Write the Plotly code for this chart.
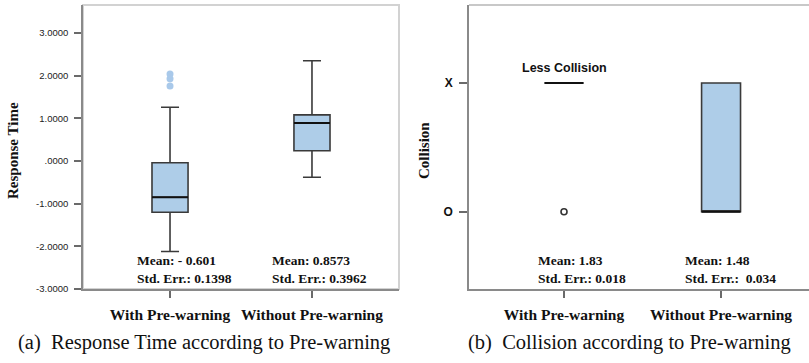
import plotly.graph_objects as go

# ---------------- data ----------------
groups = ["With Pre-warning", "Without Pre-warning"]

# (a) Response Time
rt_q1 = [-1.20, 0.24]
rt_median = [-0.85, 0.89]
rt_q3 = [-0.04, 1.08]
rt_lower = [-2.12, -0.38]
rt_upper = [1.26, 2.35]
rt_outlier_group = ["With Pre-warning", "With Pre-warning", "With Pre-warning"]
rt_outlier_y = [2.04, 1.93, 1.76]
rt_mean = ["- 0.601", "0.8573"]
rt_se = ["0.1398", "0.3962"]
rt_tickvals = [3, 2, 1, 0, -1, -2, -3]
rt_ticktext = ["3.0000", "2.0000", "1.0000", ".0000", "-1.0000", "-2.0000", "-3.0000"]

# (b) Collision  (O = 1, X = 2)
col_q1 = [2, 1]
col_median = [2, 1]
col_q3 = [2, 2]
col_lower = [2, 1]
col_upper = [2, 2]
col_outlier_group = ["With Pre-warning"]
col_outlier_y = [1]
col_mean = ["1.83", "1.48"]
col_se = ["0.018", "\u00a00.034"]
col_tickvals = [2, 1]
col_ticktext = ["X", "O"]

# ---------------- styles ----------------
FILL = "#aecde8"
EDGE = "#3a3a3a"
SERIF = "Liberation Serif, Times New Roman, serif"
SANS = "Liberation Sans, Arial, sans-serif"

fig = go.Figure()

def add_boxes(q1, med, q3, lo, hi, width, xa, ya):
    fig.add_trace(go.Box(
        x=groups, q1=q1, median=med, q3=q3, lowerfence=lo, upperfence=hi,
        width=width, fillcolor=FILL, line=dict(color=EDGE, width=1.6),
        boxpoints=False, whiskerwidth=0.5, showlegend=False, hoverinfo="skip",
        xaxis=xa, yaxis=ya))
    # darker median line
    fig.add_trace(go.Box(
        x=groups, q1=med, median=med, q3=med, lowerfence=med, upperfence=med,
        width=width, fillcolor="rgba(0,0,0,0)", line=dict(color="#111111", width=2.2),
        boxpoints=False, whiskerwidth=0, showlegend=False, hoverinfo="skip",
        xaxis=xa, yaxis=ya))

add_boxes(rt_q1, rt_median, rt_q3, rt_lower, rt_upper, 0.254, "x", "y")
fig.add_trace(go.Scatter(
    x=rt_outlier_group, y=rt_outlier_y, mode="markers",
    marker=dict(color="#a9c9ea", size=7, line=dict(width=0)),
    showlegend=False, hoverinfo="skip", xaxis="x", yaxis="y"))

add_boxes(col_q1, col_median, col_q3, col_lower, col_upper, 0.248, "x2", "y2")
fig.add_trace(go.Scatter(
    x=col_outlier_group, y=col_outlier_y, mode="markers",
    marker=dict(color="white", size=6, line=dict(color="#333333", width=1.6)),
    showlegend=False, hoverinfo="skip", xaxis="x2", yaxis="y2"))

ydom = [1 - 289 / 363, 1 - 5 / 363]
axis_common = dict(showgrid=False, zeroline=False, showline=True, automargin=False,
                   linecolor="#8a8a8a", linewidth=1.5, ticks="outside",
                   tickcolor="#6a6a6a", tickwidth=1.5)

fig.update_layout(
    width=809, height=363,
    margin=dict(l=0, r=0, t=0, b=0),
    paper_bgcolor="white", plot_bgcolor="white",
    showlegend=False,
    xaxis=dict(domain=[83 / 809, 399 / 809], type="category",
               categoryorder="array", categoryarray=groups,
               range=[-0.613, 1.613], ticklen=7, ticklabelstandoff=4,
               tickfont=dict(family=SERIF, size=15.5, color="#111111"),
               tickvals=groups, ticktext=["<b>%s</b>" % g for g in groups],
               anchor="y", **axis_common),
    yaxis=dict(domain=ydom, range=[-3, 3.656], tickvals=rt_tickvals,
               ticktext=rt_ticktext, ticklen=7, ticklabelstandoff=4,
               tickfont=dict(family=SANS, size=9.5, color="#222222"),
               anchor="x", **axis_common),
    xaxis2=dict(domain=[469 / 809, 1.0], type="category",
                categoryorder="array", categoryarray=groups,
                range=[-0.605, 1.56], ticklen=7, ticklabelstandoff=4,
                tickfont=dict(family=SERIF, size=15.5, color="#111111"),
                tickvals=groups, ticktext=["<b>%s</b>" % g for g in groups],
                anchor="y2", **axis_common),
    yaxis2=dict(domain=ydom, range=[0.4, 2.606], tickvals=col_tickvals,
                ticktext=col_ticktext, ticklen=8, ticklabelstandoff=4,
                tickfont=dict(family=SANS, size=12, color="#111111", weight="bold"),
                anchor="x2", **axis_common),
)

# light frame around each panel
fig.add_shape(type="rect", xref="x domain", yref="y domain", x0=0, x1=1, y0=0, y1=1,
              line=dict(color="#d2d2d2", width=2), layer="below")
fig.add_shape(type="line", xref="x2 domain", yref="y2 domain", x0=0, x1=1, y0=1, y1=1,
              line=dict(color="#c8c8c8", width=2), layer="below")

# axis titles
fig.add_annotation(text="<b>Response Time</b>", xref="paper", yref="paper",
                   x=13 / 809, y=1 - 151 / 363, textangle=-90, showarrow=False,
                   xanchor="center", yanchor="middle",
                   font=dict(family=SERIF, size=15, color="#111111"))
fig.add_annotation(text="<b>Collision</b>", xref="paper", yref="paper",
                   x=424 / 809, y=1 - 151 / 363, textangle=-90, showarrow=False,
                   xanchor="center", yanchor="middle",
                   font=dict(family=SERIF, size=15, color="#111111"))

# mean / std err labels
rt_offsets = [-0.246, -0.296]
for i, g in enumerate(groups):
    fig.add_annotation(
        text="<b>Mean: %s<br>Std. Err.: %s</b>" % (rt_mean[i], rt_se[i]),
        xref="x", yref="paper", x=i + rt_offsets[i], y=1 - 269 / 363,
        xanchor="left", yanchor="middle", align="left", showarrow=False,
        font=dict(family=SERIF, size=13.5, color="#111111"))
col_offsets = [-0.178, -0.242]
for i, g in enumerate(groups):
    fig.add_annotation(
        text="<b>Mean: %s<br>Std. Err.: %s</b>" % (col_mean[i], col_se[i]),
        xref="x2", yref="paper", x=i + col_offsets[i], y=1 - 269 / 363,
        xanchor="left", yanchor="middle", align="left", showarrow=False,
        font=dict(family=SERIF, size=13.5, color="#111111"))

fig.add_annotation(text="<b>Less Collision</b>", xref="x2", yref="y2",
                   x=0, y=2.117, showarrow=False, xanchor="center", yanchor="middle",
                   font=dict(family=SANS, size=12.5, color="#111111"))

# captions
fig.add_annotation(text="(a)\u00a0 Response Time according to Pre-warning",
                   xref="paper", yref="paper", x=204 / 809, y=1 - 342 / 363,
                   showarrow=False, xanchor="center", yanchor="middle",
                   font=dict(family=SERIF, size=20.5, color="#111111"))
fig.add_annotation(text="(b)\u00a0 Collision according to Pre-warning",
                   xref="paper", yref="paper", x=629 / 809, y=1 - 342 / 363,
                   showarrow=False, xanchor="center", yanchor="middle",
                   font=dict(family=SERIF, size=20.5, color="#111111"))

fig.write_html("out.html", config={"displayModeBar": False},
               post_script="document.body.style.margin='0';document.body.style.overflow='hidden';")
